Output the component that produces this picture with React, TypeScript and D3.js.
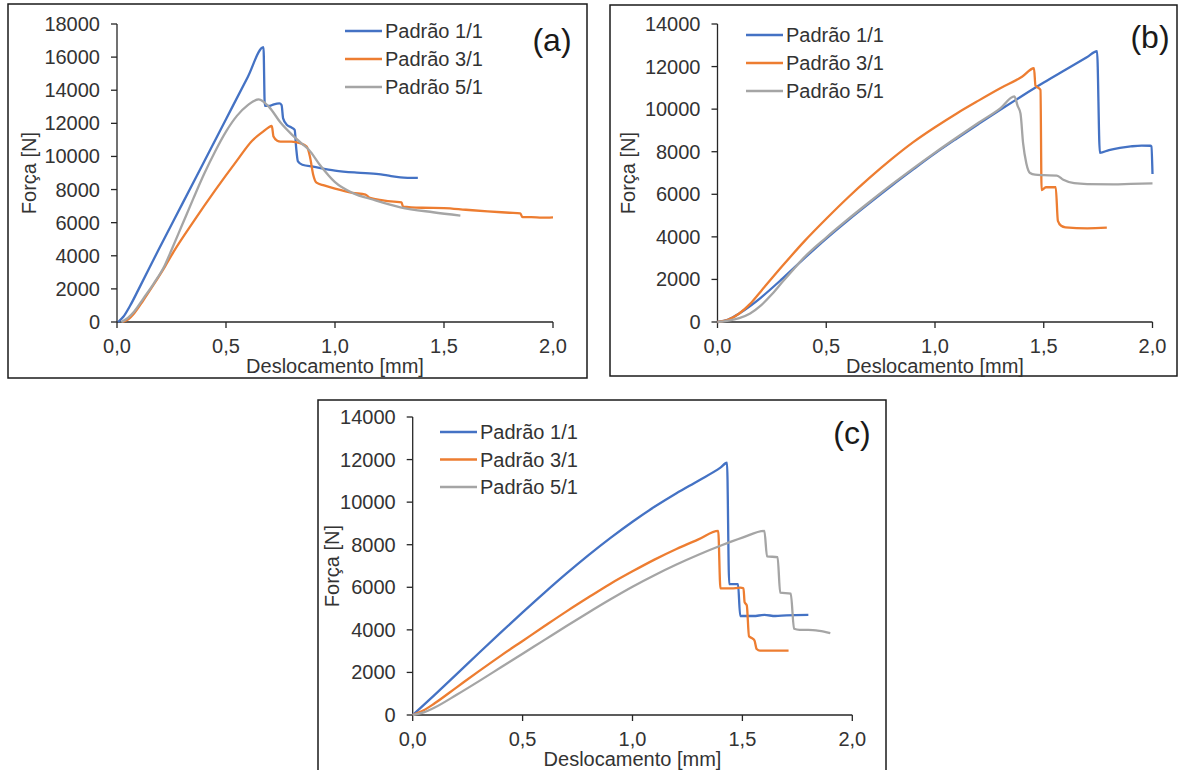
import React from "react";
import * as d3 from "d3";

type Pt = [number, number];

const SERIES_NAMES = ["Padrão 1/1", "Padrão 3/1", "Padrão 5/1"];
const SERIES_COLORS = ["#4472C4", "#ED7D31", "#A5A5A5"];
const X_TICKS = [0, 0.5, 1, 1.5, 2];
const Y_TICKS_A = [0, 2000, 4000, 6000, 8000, 10000, 12000, 14000, 16000, 18000];
const Y_TICKS_BC = [0, 2000, 4000, 6000, 8000, 10000, 12000, 14000];
const X_TITLE = "Deslocamento [mm]";
const Y_TITLE = "Força [N]";

// (a) force–displacement curves
const A_P11: Pt[] = [
  [0.005, 0], [0.03, 330], [0.06, 980], [0.1, 2000], [0.19, 4350], [0.3, 7150], [0.4, 9700],
  [0.5, 12250], [0.6, 14800], [0.672, 16600], [0.678, 13050], [0.7, 13060], [0.72, 13150],
  [0.745, 13200], [0.755, 13100], [0.762, 12300], [0.78, 11900], [0.8, 11750], [0.815, 11600],
  [0.822, 10500], [0.83, 9700], [0.85, 9500], [0.9, 9380], [1.0, 9150], [1.1, 9020], [1.2, 8930],
  [1.24, 8850], [1.3, 8740], [1.38, 8700],
];
const A_P31: Pt[] = [
  [0.025, 0], [0.05, 150], [0.08, 550], [0.12, 1300], [0.17, 2300], [0.22, 3350], [0.26, 4250],
  [0.35, 6050], [0.45, 7950], [0.55, 9750], [0.62, 10950], [0.67, 11500], [0.695, 11750],
  [0.71, 11840], [0.718, 11200], [0.735, 10950], [0.75, 10900], [0.8, 10900], [0.84, 10800],
  [0.87, 10600], [0.885, 10000], [0.9, 8900], [0.915, 8420], [0.95, 8250], [1.0, 8050],
  [1.08, 7800], [1.14, 7700], [1.16, 7500], [1.22, 7350], [1.27, 7270], [1.305, 7230],
  [1.312, 6970], [1.4, 6900], [1.5, 6880], [1.6, 6780], [1.7, 6680], [1.8, 6600], [1.85, 6560],
  [1.86, 6330], [1.9, 6330], [1.95, 6300], [2.0, 6320],
];
const A_P51: Pt[] = [
  [0.02, 0], [0.05, 250], [0.08, 650], [0.12, 1400], [0.17, 2350], [0.22, 3450], [0.25, 4350],
  [0.3, 5900], [0.35, 7450], [0.4, 8950], [0.45, 10300], [0.5, 11500], [0.55, 12450],
  [0.6, 13100], [0.65, 13450], [0.7, 12950], [0.75, 12050], [0.8, 11350], [0.85, 10750],
  [0.88, 10400], [0.93, 9500], [1.0, 8450], [1.08, 7800], [1.18, 7370], [1.3, 6930],
  [1.45, 6630], [1.575, 6430],
];

// (b)
const B_P11: Pt[] = [
  [0, 0], [0.05, 120], [0.1, 400], [0.15, 750], [0.2, 1150], [0.3, 2050], [0.4, 3000],
  [0.5, 3920], [0.6, 4780], [0.7, 5600], [0.8, 6400], [0.9, 7170], [1.0, 7920], [1.1, 8620],
  [1.2, 9300], [1.3, 9970], [1.4, 10620], [1.5, 11250], [1.6, 11850], [1.7, 12450],
  [1.745, 12720], [1.758, 7950], [1.8, 8080], [1.85, 8180], [1.9, 8250], [1.95, 8290],
  [1.99, 8280], [1.995, 8250], [2.0, 6950],
];
const B_P31: Pt[] = [
  [0, 0], [0.05, 110], [0.1, 400], [0.15, 850], [0.2, 1450], [0.3, 2650], [0.4, 3800],
  [0.5, 4850], [0.6, 5850], [0.7, 6780], [0.8, 7650], [0.9, 8450], [1.0, 9150], [1.1, 9800],
  [1.2, 10400], [1.3, 10980], [1.4, 11520], [1.455, 11920], [1.462, 11100], [1.475, 11000],
  [1.485, 10900], [1.49, 6200], [1.51, 6330], [1.555, 6340], [1.565, 4750], [1.58, 4520],
  [1.6, 4450], [1.7, 4400], [1.79, 4430],
];
const B_P51: Pt[] = [
  [0, 0], [0.05, 60], [0.1, 180], [0.15, 400], [0.2, 780], [0.25, 1300], [0.3, 1900],
  [0.35, 2480], [0.4, 3050], [0.5, 3970], [0.6, 4830], [0.7, 5650], [0.8, 6450], [0.9, 7220],
  [1.0, 7960], [1.1, 8670], [1.2, 9360], [1.3, 10040], [1.365, 10600], [1.38, 10150],
  [1.393, 9800], [1.405, 8400], [1.42, 7450], [1.437, 7000], [1.46, 6920], [1.5, 6900],
  [1.56, 6880], [1.59, 6680], [1.64, 6520], [1.7, 6480], [1.82, 6470], [1.9, 6490], [2.0, 6510],
];

// (c)
const C_P11: Pt[] = [
  [0, 0], [0.1, 950], [0.2, 1920], [0.3, 2900], [0.4, 3870], [0.5, 4820], [0.6, 5750],
  [0.7, 6650], [0.8, 7510], [0.9, 8320], [1.0, 9080], [1.1, 9780], [1.2, 10420], [1.3, 11010],
  [1.4, 11620], [1.43, 11850], [1.44, 6150], [1.48, 6150], [1.49, 4650], [1.55, 4650],
  [1.6, 4700], [1.65, 4650], [1.7, 4680], [1.8, 4700],
];
const C_P31: Pt[] = [
  [0, 0], [0.05, 220], [0.1, 550], [0.2, 1300], [0.3, 2050], [0.4, 2780], [0.5, 3480],
  [0.6, 4180], [0.7, 4870], [0.8, 5530], [0.9, 6170], [1.0, 6750], [1.1, 7300], [1.2, 7800],
  [1.3, 8250], [1.39, 8650], [1.4, 5950], [1.45, 5950], [1.49, 5980], [1.505, 5950],
  [1.51, 5300], [1.52, 5150], [1.53, 3700], [1.545, 3600], [1.555, 3500], [1.565, 3100],
  [1.58, 3020], [1.65, 3020], [1.71, 3020],
];
const C_P51: Pt[] = [
  [0, 0], [0.05, 120], [0.1, 350], [0.2, 950], [0.3, 1580], [0.4, 2230], [0.5, 2880],
  [0.6, 3530], [0.7, 4180], [0.8, 4820], [0.9, 5440], [1.0, 6030], [1.1, 6570], [1.2, 7070],
  [1.3, 7530], [1.4, 7950], [1.5, 8330], [1.6, 8650], [1.612, 7450], [1.66, 7420],
  [1.672, 5750], [1.72, 5700], [1.735, 4050], [1.76, 4000], [1.8, 4000], [1.85, 3950],
  [1.9, 3850],
];

const FONT = "'Liberation Sans', Arial, sans-serif";
const TEXT = "#333333";
const AXIS = "#262626";

type PanelProps = {
  box: { x: number; y: number; w: number; h: number };
  plot: { x0: number; x1: number; yTop: number; yBot: number };
  yMax: number;
  yTicks: number[];
  series: Pt[][];
  legend: { x: number; y: number; dy: number };
  tag: string;
  tagPos: [number, number];
  yTitleX: number;
};

const fmtX = (v: number) => d3.format(".1f")(v).replace(".", ",");

function Panel(p: PanelProps) {
  const x = d3.scaleLinear().domain([0, 2]).range([p.plot.x0, p.plot.x1]);
  const y = d3.scaleLinear().domain([0, p.yMax]).range([p.plot.yBot, p.plot.yTop]);
  const line = d3
    .line<Pt>()
    .x((d) => x(d[0]))
    .y((d) => y(d[1]))
    .curve(d3.curveMonotoneX);
  const midX = (p.plot.x0 + p.plot.x1) / 2;
  const midY = (p.plot.yTop + p.plot.yBot) / 2;
  return (
    <g fontFamily={FONT}>
      <rect x={p.box.x} y={p.box.y} width={p.box.w} height={p.box.h} fill="#fff" stroke="#1a1a1a" strokeWidth={1.5} />
      {/* y axis */}
      <line x1={p.plot.x0} x2={p.plot.x0} y1={p.plot.yTop} y2={p.plot.yBot} stroke={AXIS} strokeWidth={1.3} />
      {p.yTicks.map((t) => (
        <g key={"y" + t}>
          <line x1={p.plot.x0 - 6} x2={p.plot.x0} y1={y(t)} y2={y(t)} stroke={AXIS} strokeWidth={1.3} />
          <text x={p.plot.x0 - 17} y={y(t)} textAnchor="end" dominantBaseline="central" fontSize={20} fill={TEXT}>
            {t}
          </text>
        </g>
      ))}
      {/* x axis */}
      <line x1={p.plot.x0} x2={p.plot.x1} y1={p.plot.yBot} y2={p.plot.yBot} stroke={AXIS} strokeWidth={1.3} />
      {X_TICKS.map((t) => (
        <g key={"x" + t}>
          <line x1={x(t)} x2={x(t)} y1={p.plot.yBot} y2={p.plot.yBot + 6} stroke={AXIS} strokeWidth={1.3} />
          <text x={x(t)} y={p.plot.yBot + 24} textAnchor="middle" dominantBaseline="central" fontSize={20} fill={TEXT}>
            {fmtX(t)}
          </text>
        </g>
      ))}
      <text x={midX} y={p.plot.yBot + 44} textAnchor="middle" dominantBaseline="central" fontSize={20} fill={TEXT}>
        {X_TITLE}
      </text>
      <text
        transform={`translate(${p.yTitleX},${midY}) rotate(-90)`}
        textAnchor="middle"
        dominantBaseline="central"
        fontSize={20}
        fill={TEXT}
      >
        {Y_TITLE}
      </text>
      {/* curves */}
      {p.series.map((s, i) => (
        <path key={"s" + i} d={line(s) || ""} fill="none" stroke={SERIES_COLORS[i]} strokeWidth={2.3} strokeLinejoin="round" />
      ))}
      {/* legend */}
      {SERIES_NAMES.map((n, i) => (
        <g key={"l" + i}>
          <line
            x1={p.legend.x}
            x2={p.legend.x + 37}
            y1={p.legend.y + i * p.legend.dy}
            y2={p.legend.y + i * p.legend.dy}
            stroke={SERIES_COLORS[i]}
            strokeWidth={2.3}
          />
          <text x={p.legend.x + 40} y={p.legend.y + i * p.legend.dy} dominantBaseline="central" fontSize={20} fill={TEXT}>
            {n}
          </text>
        </g>
      ))}
      <text x={p.tagPos[0]} y={p.tagPos[1]} textAnchor="middle" dominantBaseline="central" fontSize={32} fill="#1a1a1a">
        {p.tag}
      </text>
    </g>
  );
}

export default function App() {
  return (
    <svg
      width={1184}
      height={770}
      viewBox="0 0 1184 770"
      style={{ position: "absolute", left: 0, top: 0, background: "#fff" }}
    >
      <rect width={1184} height={770} fill="#fff" />
      <Panel
        box={{ x: 8, y: 4, w: 579, h: 374 }}
        plot={{ x0: 117, x1: 553, yTop: 24, yBot: 322 }}
        yMax={18000}
        yTicks={Y_TICKS_A}
        series={[A_P11, A_P31, A_P51]}
        legend={{ x: 345, y: 31, dy: 28 }}
        tag="(a)"
        tagPos={[552, 40]}
        yTitleX={29}
      />
      <Panel
        box={{ x: 610, y: 5, w: 567, h: 371 }}
        plot={{ x0: 717.5, x1: 1152.5, yTop: 24, yBot: 322 }}
        yMax={14000}
        yTicks={Y_TICKS_BC}
        series={[B_P11, B_P31, B_P51]}
        legend={{ x: 746, y: 35, dy: 28 }}
        tag="(b)"
        tagPos={[1150, 37]}
        yTitleX={628}
      />
      <Panel
        box={{ x: 318, y: 400, w: 568, h: 374 }}
        plot={{ x0: 412.7, x1: 852.3, yTop: 417, yBot: 715 }}
        yMax={14000}
        yTicks={Y_TICKS_BC}
        series={[C_P11, C_P31, C_P51]}
        legend={{ x: 440, y: 432, dy: 27.5 }}
        tag="(c)"
        tagPos={[852, 433]}
        yTitleX={332}
      />
    </svg>
  );
}
